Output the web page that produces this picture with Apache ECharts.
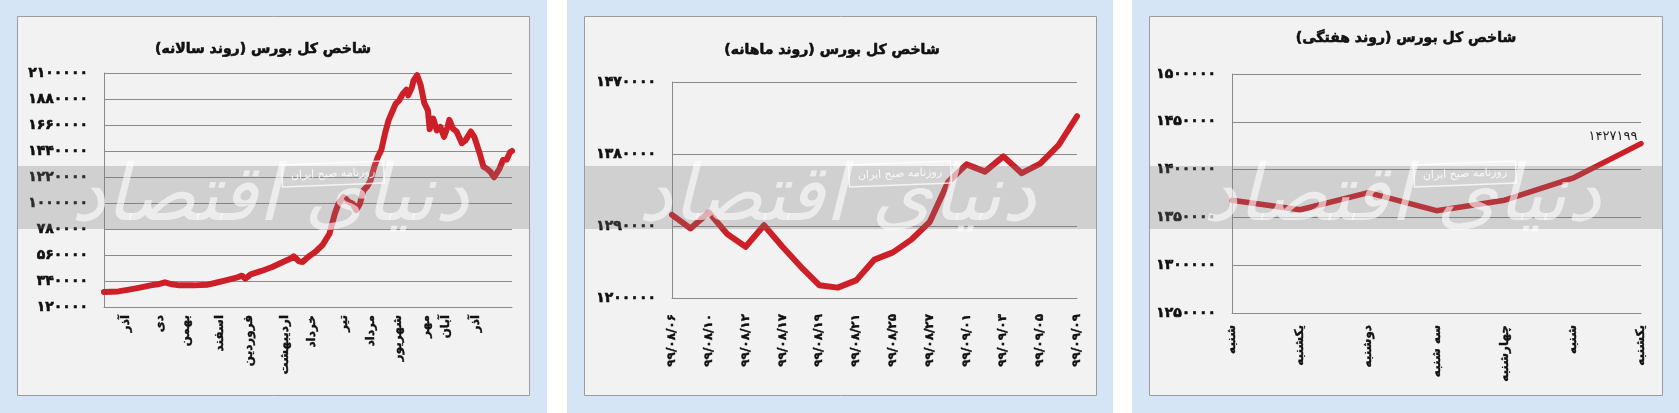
<!DOCTYPE html>
<html><head><meta charset="utf-8">
<script src="https://cdn.jsdelivr.net/npm/echarts@6/dist/echarts.min.js"></script>
<style>html,body{margin:0;padding:0;background:#d5e5f6;}#c{width:1679px;height:413px;}</style>
</head><body><div id="c"></div>
<script>
// ---------- data ----------
const titles = ['شاخص کل بورس (روند سالانه)', 'شاخص کل بورس (روند ماهانه)', 'شاخص کل بورس (روند هفتگی)'];

// yearly panel: trading-day index -> index value
const yearDayCount = 229;
const yearMonths = ['آذر','دی','بهمن','اسفند','فروردین','اردیبهشت','خرداد','تیر','مرداد','شهریور','مهر','آبان','آذر'];
const yearMonthPos = [12,31,46,65,81,101,116,134,149,164,180,191,208];
const yearDayIdx = [0,8,14,20,26,30,34,38,42,50,58,62,68,74,77,79,82,88,94,100,104,106,109,111,114,118,122,126,129,131,134,137,139,141,143,145,147,149,151,153,155,157,159,161,163,165,167,169,170,172,173,175,177,179,181,182,184,186,188,190,192,193,195,197,200,202,205,207,210,212,214,216,218,221,223,225,227,228];
const yearValues = [247000,252000,267000,284000,303000,312000,329000,312000,303000,303000,309000,323000,346000,368000,385000,360000,396000,425000,458000,501000,529000,549000,506000,501000,543000,585000,642000,740000,910000,994000,1051000,1008000,994000,940000,994000,1107000,1138000,1192000,1305000,1389000,1449000,1587000,1699000,1770000,1840000,1869000,1925000,1959000,1911000,1976000,2038000,2082000,1996000,1845000,1784000,1625000,1714000,1615000,1643000,1560000,1643000,1704000,1629000,1605000,1506000,1530000,1605000,1558000,1417000,1308000,1290000,1262000,1218000,1290000,1364000,1367000,1431000,1440000];
const yearTicks = [120000,340000,560000,780000,1000000,1220000,1440000,1660000,1880000,2100000];

// monthly panel
const monthDates = ['۹۹/۰۸/۰۶','۹۹/۰۸/۰۷','۹۹/۰۸/۱۰','۹۹/۰۸/۱۱','۹۹/۰۸/۱۲','۹۹/۰۸/۱۳','۹۹/۰۸/۱۷','۹۹/۰۸/۱۸','۹۹/۰۸/۱۹','۹۹/۰۸/۲۰','۹۹/۰۸/۲۱','۹۹/۰۸/۲۴','۹۹/۰۸/۲۵','۹۹/۰۸/۲۶','۹۹/۰۸/۲۷','۹۹/۰۸/۲۸','۹۹/۰۹/۰۱','۹۹/۰۹/۰۲','۹۹/۰۹/۰۳','۹۹/۰۹/۰۴','۹۹/۰۹/۰۵','۹۹/۰۹/۰۸','۹۹/۰۹/۰۹'];
const monthValues = [1304000,1287000,1307000,1280000,1264000,1291000,1264000,1239000,1216000,1213000,1222000,1248000,1257000,1273000,1295000,1345000,1367000,1358000,1377000,1356000,1368000,1391000,1427199];
const monthTicks = [1200000,1290000,1380000,1470000];

// weekly panel
const weekDays = ['شنبه','یکشنبه','دوشنبه','سه شنبه','چهارشنبه','شنبه','یکشنبه'];
const weekValues = [1368000,1358000,1376000,1357000,1368000,1391000,1427199];
const weekTicks = [1250000,1300000,1350000,1400000,1450000,1500000];

// ---------- helpers ----------
const FA = '۰۱۲۳۴۵۶۷۸۹';
const fa = v => String(v).replace(/\d/g, d => FA[d]);
const RLM = '\u200F';
const FONT = 'DejaVu Sans';
const RED = '#cc1f27';
const GRIDC = '#8a8a8a';

const panels = [
  {x: 17, w: 512},
  {x: 584, w: 512},
  {x: 1149, w: 513}
];
const PTOP = 16, PH = 379;

const yearCats = Array.from({length: yearDayCount}, () => '');
yearMonthPos.forEach((p, i) => { yearCats[p] = yearMonths[i]; });
const yearData = yearDayIdx.map((d, i) => [d, yearValues[i]]);

const weekData = weekValues.map((v, i) => i === weekValues.length - 1 ?
  {value: v, label: {show: true, position: 'left', distance: 3, offset: [0, -7], formatter: p => fa(p.value),
    fontFamily: FONT, fontSize: 13, color: '#222'}} : v);

function yAxis(gi, ticks) {
  return {
    type: 'value', gridIndex: gi, min: ticks[0], max: ticks[ticks.length - 1],
    axisLine: {show: true, lineStyle: {color: GRIDC, width: 1}},
    axisTick: {show: false, customValues: ticks},
    splitLine: {show: true, lineStyle: {color: GRIDC, width: 1}},
    axisLabel: {customValues: ticks, formatter: v => fa(v), fontFamily: FONT, fontWeight: 'bold',
      fontSize: 14, color: '#111', margin: 16, textBorderColor: '#111', textBorderWidth: 0.6}
  };
}
function xAxis(gi, cats, margin, interval) {
  return {
    type: 'category', gridIndex: gi, data: cats, boundaryGap: false,
    axisLine: {show: true, lineStyle: {color: GRIDC, width: 1}},
    axisTick: {show: false},
    axisLabel: {rotate: 90, interval: interval, margin: margin, fontFamily: FONT, fontWeight: 'bold',
      fontSize: 12, color: '#111', textBorderColor: '#111', textBorderWidth: 0.4, formatter: v => v + RLM}
  };
}

// ---------- graphics: panels, titles, watermark ----------
const graphics = [];
graphics.push({type: 'rect', shape: {x: 547, y: 0, width: 20, height: 413}, style: {fill: '#ffffff'}, z: -20, silent: true});
graphics.push({type: 'rect', shape: {x: 1113, y: 0, width: 19, height: 413}, style: {fill: '#ffffff'}, z: -20, silent: true});
const titleY = [49, 50, 38];
const titleX = [263, 832, 1406];
panels.forEach((p, i) => {
  graphics.push({type: 'rect', shape: {x: p.x + 0.5, y: PTOP + 0.5, width: p.w, height: PH},
    style: {fill: '#f2f2f2', stroke: '#9c9c9c', lineWidth: 1}, z: -10, silent: true});
  graphics.push({type: 'text', x: titleX[i], y: titleY[i], style: {text: titles[i] + RLM, fill: '#111',
    stroke: '#111', lineWidth: 0.6,
    font: 'bold 14px "' + FONT + '"', textAlign: 'center', textVerticalAlign: 'middle'}, z: 5, silent: true});
  graphics.push({type: 'rect', shape: {x: p.x + 1, y: 166, width: p.w - 1, height: 63},
    style: {fill: 'rgba(120,120,120,0.27)'}, z: 20, silent: true});
  graphics.push({type: 'text', x: p.x + 253, y: 200, style: {text: 'دنیای اقتصاد' + RLM,
    fill: 'rgba(255,255,255,0.6)', font: 'italic 78px "' + FONT + '"', textAlign: 'center', textVerticalAlign: 'middle'},
    z: 21, silent: true});
  graphics.push({type: 'group', x: p.x + 316, y: 174, rotation: 0.04, z: 22, silent: true, children: [
    {type: 'rect', shape: {x: -51, y: -11, width: 102, height: 22},
      style: {fill: 'rgba(255,255,255,0.08)', stroke: 'rgba(255,255,255,0.75)', lineWidth: 1.5}, z: 22},
    {type: 'text', x: 0, y: 0, style: {text: 'روزنامه صبح ایران' + RLM, fill: 'rgba(255,255,255,0.85)',
      font: '11px "' + FONT + '"', textAlign: 'center', textVerticalAlign: 'middle'}, z: 23}
  ]});
});

const chart = echarts.init(document.getElementById('c'), null, {renderer: 'canvas'});
chart.setOption({
  backgroundColor: '#d5e5f6',
  animation: false,
  textStyle: {fontFamily: FONT},
  grid: [
    {left: 104, top: 73, width: 408, height: 234},
    {left: 672, top: 82, width: 405, height: 216},
    {left: 1232, top: 74, width: 409, height: 239}
  ],
  xAxis: [
    xAxis(0, yearCats, 8, 0),
    xAxis(1, monthDates, 16, 1),
    xAxis(2, weekDays, 12, 0)
  ],
  yAxis: [yAxis(0, yearTicks), yAxis(1, monthTicks), yAxis(2, weekTicks)],
  series: [
    {type: 'line', xAxisIndex: 0, yAxisIndex: 0, data: yearData, symbol: 'none',
      lineStyle: {color: RED, width: 6, join: 'round', cap: 'round'}, z: 3},
    {type: 'line', xAxisIndex: 1, yAxisIndex: 1, data: monthValues, symbol: 'none',
      lineStyle: {color: RED, width: 6, join: 'round', cap: 'round'}, z: 3},
    {type: 'line', xAxisIndex: 2, yAxisIndex: 2, data: weekData, symbol: 'circle', symbolSize: 1,
      showSymbol: true, itemStyle: {color: RED},
      lineStyle: {color: RED, width: 5.5, join: 'round', cap: 'round'}, z: 3}
  ],
  graphic: {elements: graphics}
});
</script>
</body></html>
